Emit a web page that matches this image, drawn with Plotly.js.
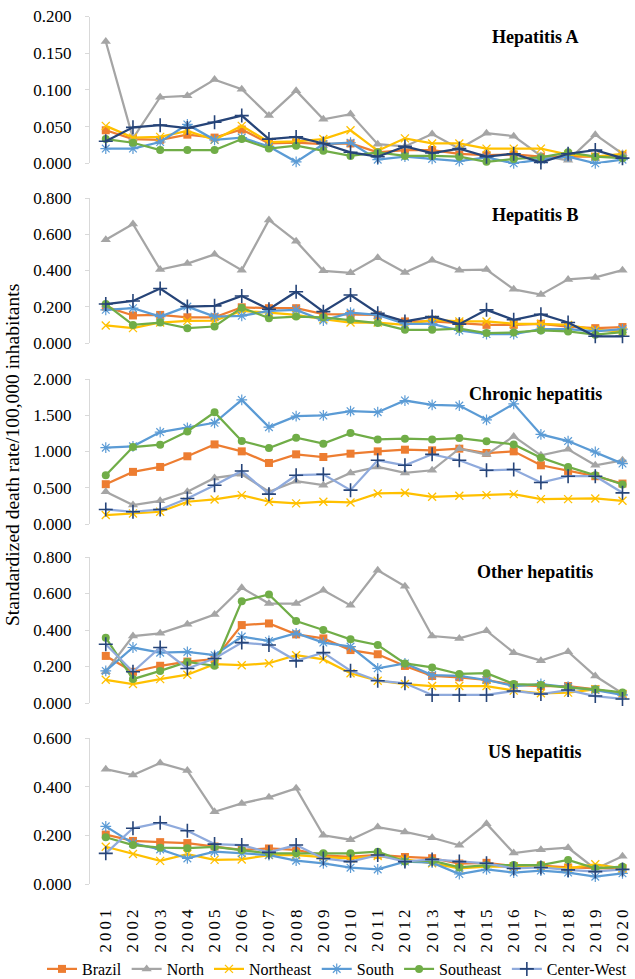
<!DOCTYPE html>
<html>
<head>
<meta charset="utf-8">
<script src="https://cdn.plot.ly/plotly-3.0.1.min.js"></script>
<style>
body{margin:0;padding:0;background:#fff;}
#chart{width:635px;height:979px;}
.xtick text{letter-spacing:3px;}
</style>
</head>
<body>
<div id="chart"></div>
<script>
const years = ['2001','2002','2003','2004','2005','2006','2007','2008','2009','2010','2011','2012','2013','2014','2015','2016','2017','2018','2019','2020'];
const seriesNames = ['Brazil','North','Northeast','South','Southeast','Center-West'];
const panelTitles = ['Hepatitis A','Hepatitis B','Chronic hepatitis','Other hepatitis','US hepatitis'];

// Hepatitis A
const hepA_brazil    = [0.045,0.033,0.032,0.039,0.035,0.046,0.027,0.028,0.026,0.027,0.015,0.018,0.018,0.013,0.011,0.012,0.009,0.009,0.009,0.011];
const hepA_north     = [0.166,0.034,0.090,0.092,0.114,0.101,0.065,0.099,0.060,0.067,0.026,0.023,0.040,0.020,0.041,0.037,0.010,0.004,0.039,0.013];
const hepA_northeast = [0.051,0.035,0.036,0.044,0.032,0.051,0.029,0.030,0.033,0.045,0.017,0.034,0.027,0.027,0.020,0.020,0.020,0.012,0.009,0.013];
const hepA_south     = [0.020,0.020,0.029,0.053,0.032,0.035,0.023,0.002,0.026,0.028,0.005,0.009,0.006,0.003,0.008,0.000,0.005,0.009,0.000,0.005];
const hepA_southeast = [0.033,0.028,0.018,0.018,0.018,0.033,0.020,0.024,0.017,0.010,0.015,0.010,0.010,0.009,0.002,0.006,0.008,0.015,0.009,0.007];
const hepA_cwest     = [0.030,0.049,0.052,0.048,0.056,0.065,0.033,0.036,0.027,0.015,0.009,0.023,0.014,0.020,0.009,0.013,0.001,0.013,0.018,0.007];

// Hepatitis B
const hepB_brazil    = [0.201,0.152,0.155,0.142,0.142,0.197,0.192,0.192,0.159,0.159,0.155,0.119,0.119,0.110,0.100,0.100,0.106,0.091,0.082,0.088];
const hepB_north     = [0.570,0.657,0.405,0.438,0.489,0.402,0.679,0.562,0.398,0.387,0.471,0.389,0.457,0.402,0.405,0.296,0.267,0.351,0.362,0.402];
const hepB_northeast = [0.097,0.082,0.113,0.122,0.124,0.177,0.168,0.155,0.131,0.113,0.113,0.100,0.128,0.119,0.119,0.106,0.106,0.100,0.073,0.064];
const hepB_south     = [0.183,0.192,0.146,0.201,0.146,0.150,0.177,0.183,0.124,0.168,0.155,0.106,0.106,0.069,0.049,0.049,0.077,0.077,0.064,0.077];
const hepB_southeast = [0.215,0.100,0.113,0.082,0.091,0.195,0.137,0.146,0.142,0.128,0.110,0.073,0.073,0.079,0.055,0.058,0.069,0.064,0.046,0.060];
const hepB_cwest     = [0.215,0.232,0.301,0.201,0.205,0.259,0.186,0.283,0.173,0.265,0.164,0.119,0.146,0.104,0.183,0.128,0.159,0.113,0.037,0.037];

// Chronic hepatitis
const chr_brazil    = [0.549,0.719,0.787,0.934,1.098,1.002,0.842,0.961,0.924,0.970,1.002,1.025,1.016,1.039,0.979,1.002,0.810,0.732,0.659,0.558];
const chr_north     = [0.444,0.261,0.320,0.444,0.636,0.686,0.444,0.590,0.535,0.705,0.787,0.705,0.741,1.039,0.957,1.208,0.947,1.030,0.810,0.879];
const chr_northeast = [0.124,0.146,0.169,0.307,0.339,0.398,0.307,0.284,0.307,0.297,0.421,0.430,0.375,0.389,0.398,0.412,0.343,0.343,0.352,0.320];
const chr_south     = [1.053,1.071,1.268,1.327,1.396,1.712,1.336,1.487,1.497,1.556,1.542,1.703,1.643,1.634,1.437,1.657,1.236,1.144,0.993,0.833];
const chr_southeast = [0.673,1.062,1.094,1.277,1.542,1.144,1.048,1.190,1.108,1.254,1.167,1.176,1.167,1.185,1.140,1.098,0.915,0.787,0.673,0.545];
const chr_cwest     = [0.201,0.169,0.201,0.352,0.535,0.732,0.412,0.673,0.686,0.467,0.879,0.810,0.961,0.879,0.741,0.751,0.572,0.659,0.659,0.430];

// Other hepatitis
const oth_brazil    = [0.258,0.171,0.204,0.227,0.240,0.427,0.436,0.376,0.354,0.290,0.267,0.203,0.148,0.141,0.126,0.099,0.093,0.093,0.075,0.049];
const oth_north     = [0.171,0.367,0.382,0.431,0.485,0.631,0.545,0.545,0.618,0.535,0.727,0.640,0.367,0.354,0.396,0.276,0.232,0.281,0.148,0.053];
const oth_northeast = [0.127,0.104,0.131,0.155,0.213,0.207,0.218,0.262,0.239,0.163,0.122,0.104,0.093,0.093,0.093,0.068,0.053,0.057,0.075,0.049];
const oth_south     = [0.176,0.304,0.276,0.280,0.262,0.364,0.340,0.382,0.331,0.309,0.190,0.217,0.153,0.148,0.126,0.093,0.104,0.089,0.071,0.044];
const oth_southeast = [0.358,0.131,0.176,0.225,0.204,0.558,0.595,0.449,0.400,0.349,0.318,0.217,0.195,0.159,0.163,0.104,0.099,0.084,0.075,0.058];
const oth_cwest     = [0.322,0.171,0.304,0.189,0.244,0.331,0.318,0.231,0.276,0.177,0.122,0.108,0.044,0.044,0.044,0.066,0.049,0.071,0.038,0.022];

// US hepatitis
const us_brazil    = [0.203,0.177,0.172,0.168,0.154,0.140,0.146,0.140,0.118,0.112,0.120,0.111,0.106,0.084,0.087,0.074,0.076,0.068,0.065,0.063];
const us_north     = [0.472,0.448,0.497,0.466,0.297,0.331,0.356,0.393,0.200,0.182,0.234,0.214,0.190,0.159,0.248,0.127,0.141,0.149,0.062,0.114];
const us_northeast = [0.153,0.123,0.095,0.123,0.099,0.101,0.119,0.119,0.110,0.105,0.115,0.101,0.085,0.064,0.071,0.071,0.071,0.064,0.081,0.064];
const us_south     = [0.237,0.167,0.142,0.105,0.133,0.126,0.119,0.096,0.085,0.067,0.060,0.092,0.088,0.041,0.060,0.047,0.055,0.047,0.030,0.044];
const us_southeast = [0.192,0.160,0.149,0.147,0.153,0.140,0.126,0.126,0.126,0.126,0.133,0.092,0.096,0.068,0.078,0.078,0.078,0.099,0.064,0.071];
const us_cwest     = [0.126,0.229,0.252,0.219,0.164,0.160,0.130,0.160,0.105,0.092,0.119,0.092,0.101,0.092,0.085,0.064,0.068,0.058,0.051,0.060];

const panelData = [
  [hepA_brazil,hepA_north,hepA_northeast,hepA_south,hepA_southeast,hepA_cwest],
  [hepB_brazil,hepB_north,hepB_northeast,hepB_south,hepB_southeast,hepB_cwest],
  [chr_brazil,chr_north,chr_northeast,chr_south,chr_southeast,chr_cwest],
  [oth_brazil,oth_north,oth_northeast,oth_south,oth_southeast,oth_cwest],
  [us_brazil,us_north,us_northeast,us_south,us_southeast,us_cwest]
];
const panelMax = [0.2, 0.8, 2.0, 0.8, 0.6];
const panelDtick = [0.05, 0.2, 0.5, 0.2, 0.2];

const FONT = 'Liberation Serif, Times New Roman, serif';
const W = 635, H = 979, ML = 90, MB = 40;
const PH = H - MB;           // plot-area height in px
const PW = W - ML;           // plot-area width in px
const panelPx = [[16.5,163.3],[198,343],[379,524],[557,703],[738,884]];
const titleY = [37, 215, 394, 572, 752];

const navy = '#264478';
const lineColors = ['#ED7D31','#A5A5A5','#FFC000','#5B9BD5','#70AD47'];
const cwLine = ['#264478','#264478','#8FAADC','#8FAADC','#8FAADC'];
const markerSpec = [
  {symbol:'square', size:8, color:'#ED7D31', line:{width:0}},
  {symbol:'triangle-up', size:9, color:'#A5A5A5', line:{width:0}},
  {symbol:'x-thin', size:8, color:'#FFC000', line:{width:1.3, color:'#FFC000'}},
  {symbol:'asterisk', size:9, color:'#5B9BD5', line:{width:1.2, color:'#5B9BD5'}},
  {symbol:'circle', size:8, color:'#70AD47', line:{width:0}},
  {symbol:'cross-thin', size:10, color:navy, line:{width:1.6, color:navy}}
];

const traces = [];
panelData.forEach((series, p) => {
  const ya = p === 0 ? 'y' : 'y' + (p + 1);
  series.forEach((vals, s) => {
    const lc = s === 5 ? cwLine[p] : lineColors[s];
    traces.push({
      type:'scatter', mode:'lines+markers',
      x: years, y: vals, xaxis:'x', yaxis: ya,
      name: seriesNames[s],
      legendgroup: seriesNames[s],
      showlegend: p === 4,
      cliponaxis: false,
      line:{color: lc, width: 2.25},
      marker: markerSpec[s],
      hoverinfo:'skip'
    });
  });
});

const layout = {
  width:W, height:H,
  margin:{l:ML, r:0, t:0, b:MB, autoexpand:false},
  paper_bgcolor:'#fff', plot_bgcolor:'#fff',
  font:{family:FONT, color:'#000', size:16},
  showlegend:true,
  legend:{orientation:'h', xref:'paper', yref:'paper', x:(42-ML)/PW, xanchor:'left', y:1-969/PH, yanchor:'middle',
          font:{family:FONT, size:16, color:'#000'}, itemwidth:30, tracegroupgap:0, traceorder:'normal', bgcolor:'rgba(0,0,0,0)'},
  xaxis:{type:'category', range:[-0.58, 19.46], anchor:'y5', showline:false, ticks:'', showgrid:false, zeroline:false, tickangle:-90,
         tickfont:{family:FONT, size:17, color:'#000'}, ticklabelstandoff:18, fixedrange:true},
  annotations:[]
};
for (let p = 0; p < 5; p++) {
  const key = p === 0 ? 'yaxis' : 'yaxis' + (p + 1);
  layout[key] = {
    domain:[1 - panelPx[p][1]/PH, 1 - panelPx[p][0]/PH],
    range:[0, panelMax[p]], dtick: panelDtick[p], tick0:0,
    anchor:'x', showline:true, linecolor:'#D9D9D9', linewidth:1,
    ticks:'outside', ticklen:4, tickcolor:'#D9D9D9', tickwidth:1,
    showgrid:false, zeroline:false, tickformat:'.3f',
    tickfont:{family:FONT, size:17, color:'#000'}, ticklabelstandoff:10
  };
  layout.annotations.push({
    text:'<b>' + panelTitles[p] + '</b>', xref:'paper', yref:'paper',
    x:(535-ML)/PW, y:1 - titleY[p]/PH, xanchor:'center', yanchor:'middle',
    showarrow:false, font:{family:FONT, size:18, color:'#000'}
  });
}
layout.annotations.push({
  text:'Standardized death rate/100,000 inhabitants', xref:'paper', yref:'paper',
  x:(12-ML)/PW, y:1 - 455/PH, xanchor:'center', yanchor:'middle', textangle:-90,
  showarrow:false, font:{family:FONT, size:19.5, color:'#000'}
});

Plotly.newPlot('chart', traces, layout, {displayModeBar:false, staticPlot:true});
</script>
</body>
</html>
